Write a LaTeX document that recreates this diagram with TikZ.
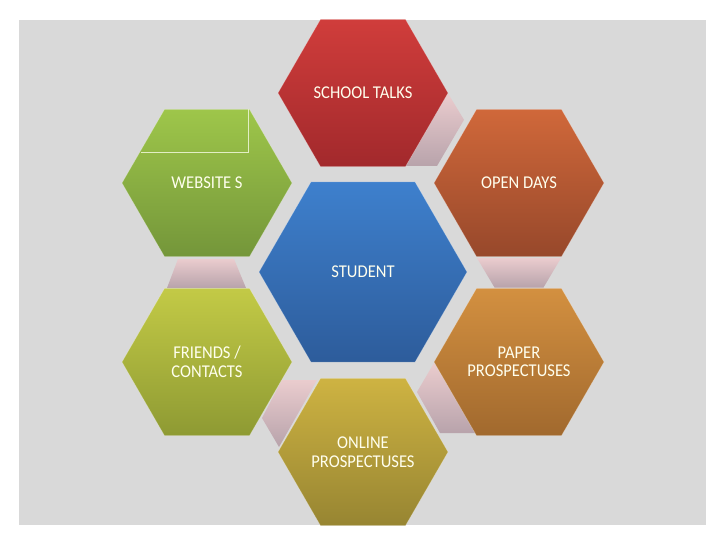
\documentclass[tikz,border=0pt]{standalone}
\usepackage{fontspec}
\setmainfont[FakeStretch=0.92]{Carlito}
\usetikzlibrary{shapes.geometric}
\definecolor{bg}{HTML}{D9D9D9}
\definecolor{lbl}{HTML}{FFFFEE}
\definecolor{lnkTop}{HTML}{EACCCE}
\definecolor{lnkBot}{HTML}{B8A3AB}
\definecolor{redT}{HTML}{D03D3B}\definecolor{redB}{HTML}{A2292C}
\definecolor{orT}{HTML}{D0683A}\definecolor{orB}{HTML}{97482B}
\definecolor{grT}{HTML}{9EC64A}\definecolor{grB}{HTML}{74963A}
\definecolor{blT}{HTML}{3E80CD}\definecolor{blB}{HTML}{2D5C9B}
\definecolor{liT}{HTML}{C3CA46}\definecolor{liB}{HTML}{8E9A33}
\definecolor{paT}{HTML}{D39040}\definecolor{paB}{HTML}{A1692E}
\definecolor{goT}{HTML}{CEB342}\definecolor{goB}{HTML}{978532}
\definecolor{wline}{HTML}{E2EEC4}
\begin{document}
\begin{tikzpicture}[x=1pt,y=-1pt,
  hexa/.style={regular polygon, regular polygon sides=6, inner sep=0pt,
    minimum size=170pt, draw=white, draw opacity=0.3, line width=0.6pt,
    text=lbl, align=center, font=\fontsize{18}{18.5}\selectfont},
  link/.style={top color=lnkTop, bottom color=lnkBot, draw=none}]
\useasboundingbox (0,0) rectangle (720,540);
\fill[bg] (19,20) rectangle (706,525);
% connectors (drawn behind the hexagons)
\shade[link] (448,93.5) -- (464,119.8) -- (437,166) -- (406,166) -- cycle;
\shade[link] (477,258) -- (561,258) -- (543.5,287.5) -- (494.5,287.5) -- cycle;
\shade[link] (178,259) -- (234,259) -- (246,288) -- (167,288) -- cycle;
\shade[link] (282,380) -- (317,380) -- (279,447) -- (262,418) -- cycle;
\shade[link] (434,363) -- (476,433) -- (440,433) -- (417,392) -- cycle;
% hexagons
\node[hexa, top color=redT, bottom color=redB] (talks) at (363,93) {SCHOOL TALKS};
\node[hexa, top color=grT, bottom color=grB] (web) at (207,183) {WEBSITE S};
\node[hexa, top color=orT, bottom color=orB] (open) at (519,183) {OPEN DAYS};
\node[hexa, minimum size=208pt, top color=blT, bottom color=blB] (student) at (363,272) {STUDENT};
\node[hexa, top color=liT, bottom color=liB] (friends) at (207,362) {FRIENDS /\\CONTACTS};
\node[hexa, top color=paT, bottom color=paB] (paper) at (519,362) {PAPER\\PROSPECTUSES};
\node[hexa, top color=goT, bottom color=goB] (online) at (363,452) {ONLINE\\PROSPECTUSES};
% thin frame inside the website hexagon
\draw[wline, line width=0.7pt] (141,152) -- (248,152) -- (248,109.5);
\end{tikzpicture}
\end{document}
